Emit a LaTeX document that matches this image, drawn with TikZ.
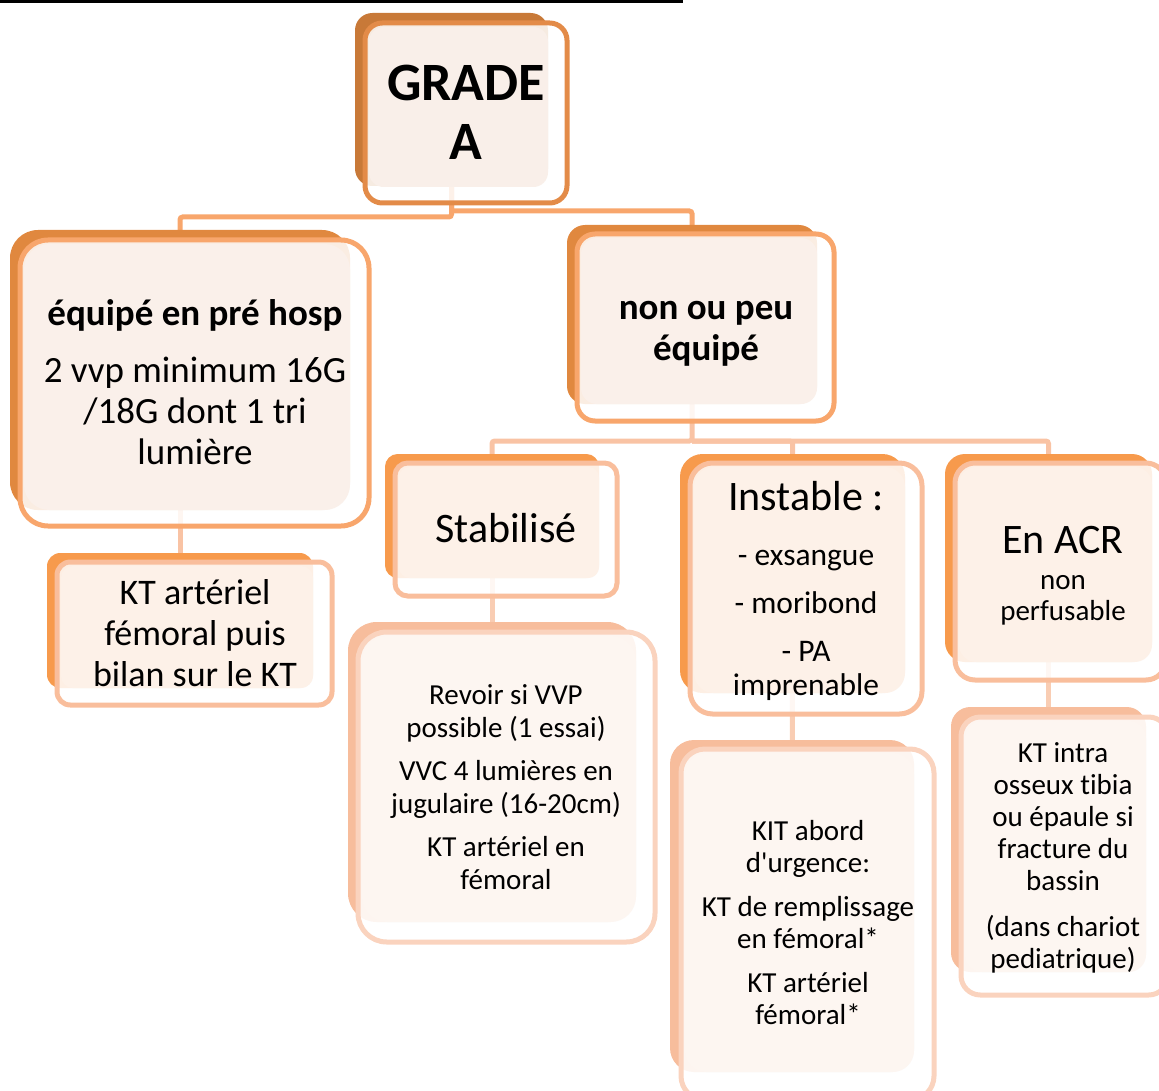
\documentclass[tikz,border=0pt]{standalone}
\usepackage{fontspec}
\setmainfont{Carlito}[Ligatures={TeX,NoCommon}]
\usetikzlibrary{fit}
\definecolor{shad0}{HTML}{C87938}
\definecolor{edge0}{HTML}{E38B48}
\definecolor{rose0}{HTML}{F9EFE9}
\definecolor{shad1}{HTML}{E0883F}
\definecolor{edge1}{HTML}{F8A66C}
\definecolor{rose1}{HTML}{FAF0EA}
\definecolor{shad2}{HTML}{F79A4C}
\definecolor{edge2}{HTML}{F9BE9C}
\definecolor{rose2}{HTML}{FDF1E8}
\definecolor{shad3}{HTML}{F7BD9C}
\definecolor{edge3}{HTML}{FAD3BE}
\definecolor{rose3}{HTML}{FDF6F1}
\definecolor{wire1}{HTML}{F8A66C}
\definecolor{wire2}{HTML}{F9C3A4}
\definecolor{wire3}{HTML}{F9CDB3}
\tikzset{shad/.style = {fill=#1, inner sep=0, outer sep=0}}
\tikzset{face/.style = {draw=#1, line width=3.75pt, fill=white, fill opacity=0.85,
                        inner sep=0, outer sep=0}}
\tikzset{wire/.style = {draw=#1, line width=3.75pt, rounded corners=2pt}}
\tikzset{txt/.style = {align=center, inner sep=0}}
\newcommand{\fsz}[2]{\fontsize{#1}{#2}\selectfont}
\pgfdeclarelayer{bg}
\pgfsetlayers{bg,main}

\begin{document}
\begin{tikzpicture}[x=0.75pt, y=-0.75pt]
  \useasboundingbox (0,0) rectangle (1159,1091);
  \clip (0,0) rectangle (1159,1091);

  \fill (0,0) rectangle (683,3);

  % grade A
  \node [shad=shad0, rounded corners=13pt, fit={(355,13) (548,186)}] (grade-s) {};
  \node [face=edge0, rounded corners=13pt, fit={(365,23) (567,203)}] (grade) {};
  \fill [rose0, rounded corners=11pt] (369,27) rectangle (548,187);
  \node [txt, font=\fsz{40.5}{44.5}\bfseries] (grade-t) at (466,112) {GRADE\\A};

  % equipe
  \node [shad=shad1, rounded corners=21pt, fit={(10,230) (350,510)}] (equip-s) {};
  \node [face=edge1, rounded corners=21pt, fit={(20,240) (369,526)}] (equip) {};
  \fill [rose1, rounded corners=19pt] (24,244) rectangle (350,510);
  \node [txt, font=\fsz{27.75}{30.75}] (equip-t) at (195,382)
    {\textbf{équipé en pré hosp}\\[12pt]2 vvp minimum 16G\\/18G dont 1 tri\\lumière};

  \node [shad=shad1, rounded corners=13.5pt, fit={(567,225) (817,404)}] (nonequip-s) {};
  \node [face=edge1, rounded corners=13.5pt, fit={(577,234) (834,421)}] (nonequip) {};
  \fill [rose1, rounded corners=12pt] (581,238) rectangle (817,404);
  \node [txt, font=\fsz{27.75}{30.75}\bfseries] (nonequip-t) at (706,334) {non ou peu\\équipé};

  % second row
  \node [shad=shad2, rounded corners=10pt, fit={(47,553) (313,688)}] (ktart-s) {};
  \node [face=edge2, rounded corners=10pt, fit={(57,562) (332,705)}] (ktart) {};
  \fill [rose2, rounded corners=9pt] (61,566) rectangle (313,688);
  \node [txt, font=\fsz{27}{30.75}] (ktart-t) at (195,633)
    {KT artériel\\fémoral puis\\bilan sur le KT};

  \node [shad=shad2, rounded corners=9.5pt, fit={(385,454) (599,578)}] (stab-s) {};
  \node [face=edge2, rounded corners=9.5pt, fit={(395,463) (617,596)}] (stab) {};
  \fill [rose2, rounded corners=8pt] (399,467) rectangle (599,578);
  \node [txt, font=\fsz{31.5}{34.5}] (stab-t) at (506,528) {Stabilisé};

  \node [shad=shad2, rounded corners=17pt, fit={(680,454) (905,693)}] (instab-s) {};
  \node [face=edge2, rounded corners=17pt, fit={(690,463) (922,714)}] (instab) {};
  \fill [rose2, rounded corners=15pt] (694,467) rectangle (905,693);
  \node [txt, font=\fsz{23.6}{26}] (instab-t) at (806,591)
    {{\fsz{31.5}{34.5}Instable :}\\[15pt]- exsangue\\[10pt]- moribond\\[10pt]- PA\\imprenable};

  \node [shad=shad2, rounded corners=15pt, fit={(945,454) (1152,662)}] (acr-s) {};
  \node [face=edge2, rounded corners=15pt, fit={(955,463) (1166,680)}] (acr) {};
  \fill [rose2, rounded corners=13pt] (959,467) rectangle (1152,662);
  \node [txt, font=\fsz{21.75}{23.5}] (acr-t) at (1063,576)
    {{\fsz{31.5}{34.5}En ACR}\\[3pt]non\\perfusable};

  % third row
  \node [shad=shad3, rounded corners=21.5pt, fit={(348,622) (636,922)}] (revoir-s) {};
  \node [face=edge3, rounded corners=21.5pt, fit={(358,632) (655,942)}] (revoir) {};
  \fill [rose3, rounded corners=19pt] (362,636) rectangle (636,922);
  \node [txt, font=\fsz{21.75}{24.5}] (revoir-t) at (506,787)
    {Revoir si VVP\\possible (1 essai)\\[8pt]VVC 4 lumières en\\jugulaire (16-20cm)\\[8pt]KT artériel en\\fémoral};

  \node [shad=shad3, rounded corners=18pt, fit={(670,740) (914,1072)}] (kit-s) {};
  \node [face=edge3, rounded corners=18pt, fit={(681,749) (934,1100)}] (kit) {};
  \fill [rose3, rounded corners=16pt] (685,753) rectangle (914,1072);
  \node [txt, font=\fsz{21.75}{24}] (kit-t) at (808,923)
    {KIT abord\\d\textquotesingle urgence:\\[9pt]KT de remplissage\\en fémoral*\\[9pt]KT artériel\\fémoral*};

  \node [shad=shad3, rounded corners=14.5pt, fit={(951,707) (1146,972)}] (ktio-s) {};
  \node [face=edge3, rounded corners=14.5pt, fit={(961,717) (1168,995)}] (ktio) {};
  \fill [rose3, rounded corners=13pt] (965,721) rectangle (1146,972);
  \node [txt, font=\fsz{21.75}{24}] (ktio-t) at (1063,858)
    {KT intra\\osseux tibia\\ou épaule si\\fracture du\\bassin\\[10pt](dans chariot\\pediatrique)};

  % connectors
  \begin{pgfonlayer}{bg}
    \draw [wire=wire1] (grade-s.center) -- (grade-s.center |- 0,217) -| (equip-s.center);
    \draw [wire=wire1] (grade-s.center) -- (grade-s.center |- 0,211) -| (nonequip-s.center);
    \draw [wire=wire2] (equip-s.center) -- (ktart-s.center);
    \draw [wire=wire2] (nonequip-s.center) -- (nonequip-s.center |- 0,441) -| (stab-s.center);
    \draw [wire=wire2] (nonequip-s.center |- 0,441) -| (instab-s.center);
    \draw [wire=wire2] (nonequip-s.center |- 0,441) -| (acr-s.center);
    \draw [wire=wire3] (stab-s.center) -- (revoir-s.center);
    \draw [wire=wire3] (instab-s.center) -- (kit-s.center);
    \draw [wire=wire3] (acr-s.center) -- (ktio-s.center);
  \end{pgfonlayer}
\end{tikzpicture}
\end{document}
